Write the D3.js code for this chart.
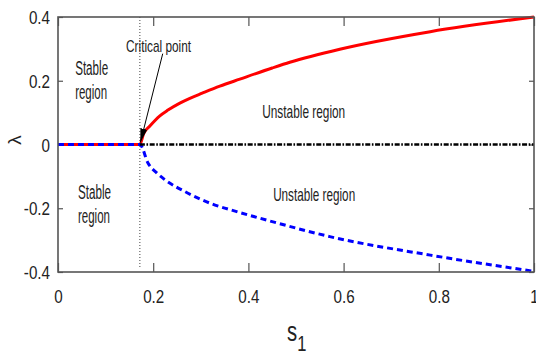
<!DOCTYPE html>
<html>
<head>
<meta charset="utf-8">
<script src="https://cdn.jsdelivr.net/npm/d3@7"></script>
<style>
html,body{margin:0;padding:0;background:#fff;}
svg{display:block;}
text{font-family:"Liberation Sans",Arial,sans-serif;fill:#222;}
</style>
</head>
<body>
<svg id="chart" width="536" height="354"></svg>
<script>
// ---- data ----
const sCritical = 0.172;
const xTicks = [0, 0.2, 0.4, 0.6, 0.8, 1];
const xTickLabels = ["0", "0.2", "0.4", "0.6", "0.8", "1"];
const yTicks = [-0.4, -0.2, 0, 0.2, 0.4];
const yTickLabels = ["-0.4", "-0.2", "0", "0.2", "0.4"];

// upper branch (red, solid)
const redS      = [0, 0.172, 0.180, 0.193, 0.214, 0.231, 0.256, 0.277, 0.303, 0.340, 0.382, 0.450, 0.487, 0.592, 0.782, 1.0];
const redLambda = [0, 0,     0.035, 0.058, 0.090, 0.108, 0.130, 0.145, 0.161, 0.183, 0.205, 0.240, 0.258, 0.299, 0.354, 0.400];
// lower branch (blue, dashed)
const blueS      = [0, 0.172, 0.189, 0.208, 0.225, 0.267, 0.330, 0.372, 0.450, 0.571, 0.782, 1.0];
const blueLambda = [0, 0,    -0.058, -0.090, -0.111, -0.148, -0.190, -0.209, -0.242, -0.289, -0.347, -0.398];
// neutral line (black dash-dot)
const blackS      = [0.172, 1.0];
const blackLambda = [0, 0];

const annotations = [
  {text: "Stable", s: 0.036, l: 0.219, w: 33, fs: 20},
  {text: "region", s: 0.036, l: 0.143, w: 32, fs: 20},
  {text: "Stable", s: 0.042, l: -0.170, w: 33, fs: 20},
  {text: "region", s: 0.042, l: -0.245, w: 32, fs: 20},
  {text: "Unstable region", s: 0.429, l: 0.083, w: 83, fs: 19},
  {text: "Unstable region", s: 0.452, l: -0.177, w: 82, fs: 19},
  {text: "Critical point", s: 0.143, l: 0.290, w: 65, fs: 17}
];

// ---- layout ----
const svg = d3.select("#chart");
const L = 58, R = 534, T = 17, B = 272;
const x = d3.scaleLinear().domain([0, 1]).range([L, R]);
const y = d3.scaleLinear().domain([-0.4, 0.4]).range([B, T]);
const axisColor = "#555";
const sx = 0.8;

// axes
const gB = svg.append("g").attr("transform", `translate(0,${B})`)
  .call(d3.axisBottom(x).tickValues(xTicks).tickFormat((d, i) => xTickLabels[i]).tickSizeInner(-9).tickSizeOuter(0));
gB.selectAll("text").attr("y", 0).attr("dy", 0)
  .attr("transform", `translate(0,31) scale(${sx},1)`).style("font-size", "19px");
const gL = svg.append("g").attr("transform", `translate(${L},0)`)
  .call(d3.axisLeft(y).tickValues(yTicks).tickFormat((d, i) => yTickLabels[i]).tickSizeInner(-5).tickSizeOuter(0));
gL.selectAll("text").attr("x", 0).attr("dy", "0.35em")
  .attr("transform", `translate(-8,0) scale(${sx},1)`).style("font-size", "19px");
const gT = svg.append("g").attr("transform", `translate(0,${T})`)
  .call(d3.axisTop(x).tickValues(xTicks).tickFormat("").tickSizeInner(-9).tickSizeOuter(0));
const gR = svg.append("g").attr("transform", `translate(${R},0)`)
  .call(d3.axisRight(y).tickValues(yTicks).tickFormat("").tickSizeInner(-5).tickSizeOuter(0));
[gB, gL, gT, gR].forEach(g => {
  g.select(".domain").remove();
  g.selectAll("line").attr("stroke", axisColor).attr("stroke-width", 1.2);
});

// dotted critical line
svg.append("line")
  .attr("x1", x(sCritical)).attr("x2", x(sCritical))
  .attr("y1", y(0.4)).attr("y2", y(-0.385))
  .attr("stroke", "#444").attr("stroke-width", 1).attr("stroke-dasharray", "1,2");

const line = d3.line().x(d => x(d[0])).y(d => y(d[1])).curve(d3.curveMonotoneX);

svg.append("path").datum(redS.map((s, i) => [s, redLambda[i]]))
  .attr("d", line).attr("fill", "none").attr("stroke", "#ff0000").attr("stroke-width", 3);
svg.append("path").datum(blueS.map((s, i) => [s, blueLambda[i]]))
  .attr("d", line).attr("fill", "none").attr("stroke", "#0000ff").attr("stroke-width", 3)
  .attr("stroke-dasharray", "6,4");
svg.append("path").datum(blackS.map((s, i) => [s, blackLambda[i]]))
  .attr("d", line).attr("fill", "none").attr("stroke", "#000").attr("stroke-width", 2.5)
  .attr("stroke-dasharray", "5,1.6,1.6,1.6");

// frame
svg.append("rect").attr("x", L).attr("y", T).attr("width", R - L).attr("height", B - T)
  .attr("fill", "none").attr("stroke", axisColor).attr("stroke-width", 1.6);

// annotations
annotations.forEach(a => {
  svg.append("text").attr("x", x(a.s)).attr("y", y(a.l))
    .attr("textLength", a.w).attr("lengthAdjust", "spacingAndGlyphs")
    .style("font-size", a.fs + "px").text(a.text);
});

// arrow
const defs = svg.append("defs");
defs.append("marker").attr("id", "ah").attr("markerUnits", "userSpaceOnUse")
  .attr("viewBox", "0 0 14 7").attr("refX", 14).attr("refY", 3.5)
  .attr("markerWidth", 14).attr("markerHeight", 7).attr("orient", "auto")
  .append("path").attr("d", "M0,0 L14,3.5 L0,7 z").attr("fill", "#000");
svg.append("line")
  .attr("x1", x(0.220)).attr("y1", y(0.285))
  .attr("x2", x(sCritical) + 0.5).attr("y2", y(0) - 2)
  .attr("stroke", "#000").attr("stroke-width", 1).attr("marker-end", "url(#ah)");

// axis titles
const xt = svg.append("text").attr("transform", "translate(287,341) scale(0.75,1)")
  .style("font-size", "27px");
xt.append("tspan").text("s");
xt.append("tspan").attr("dy", 10).style("font-size", "22px").text("1");

svg.append("text").attr("transform", "translate(14,140) rotate(-90)")
  .attr("text-anchor", "middle").attr("dominant-baseline", "central")
  .style("font-size", "19px").text("λ");
</script>
</body>
</html>
